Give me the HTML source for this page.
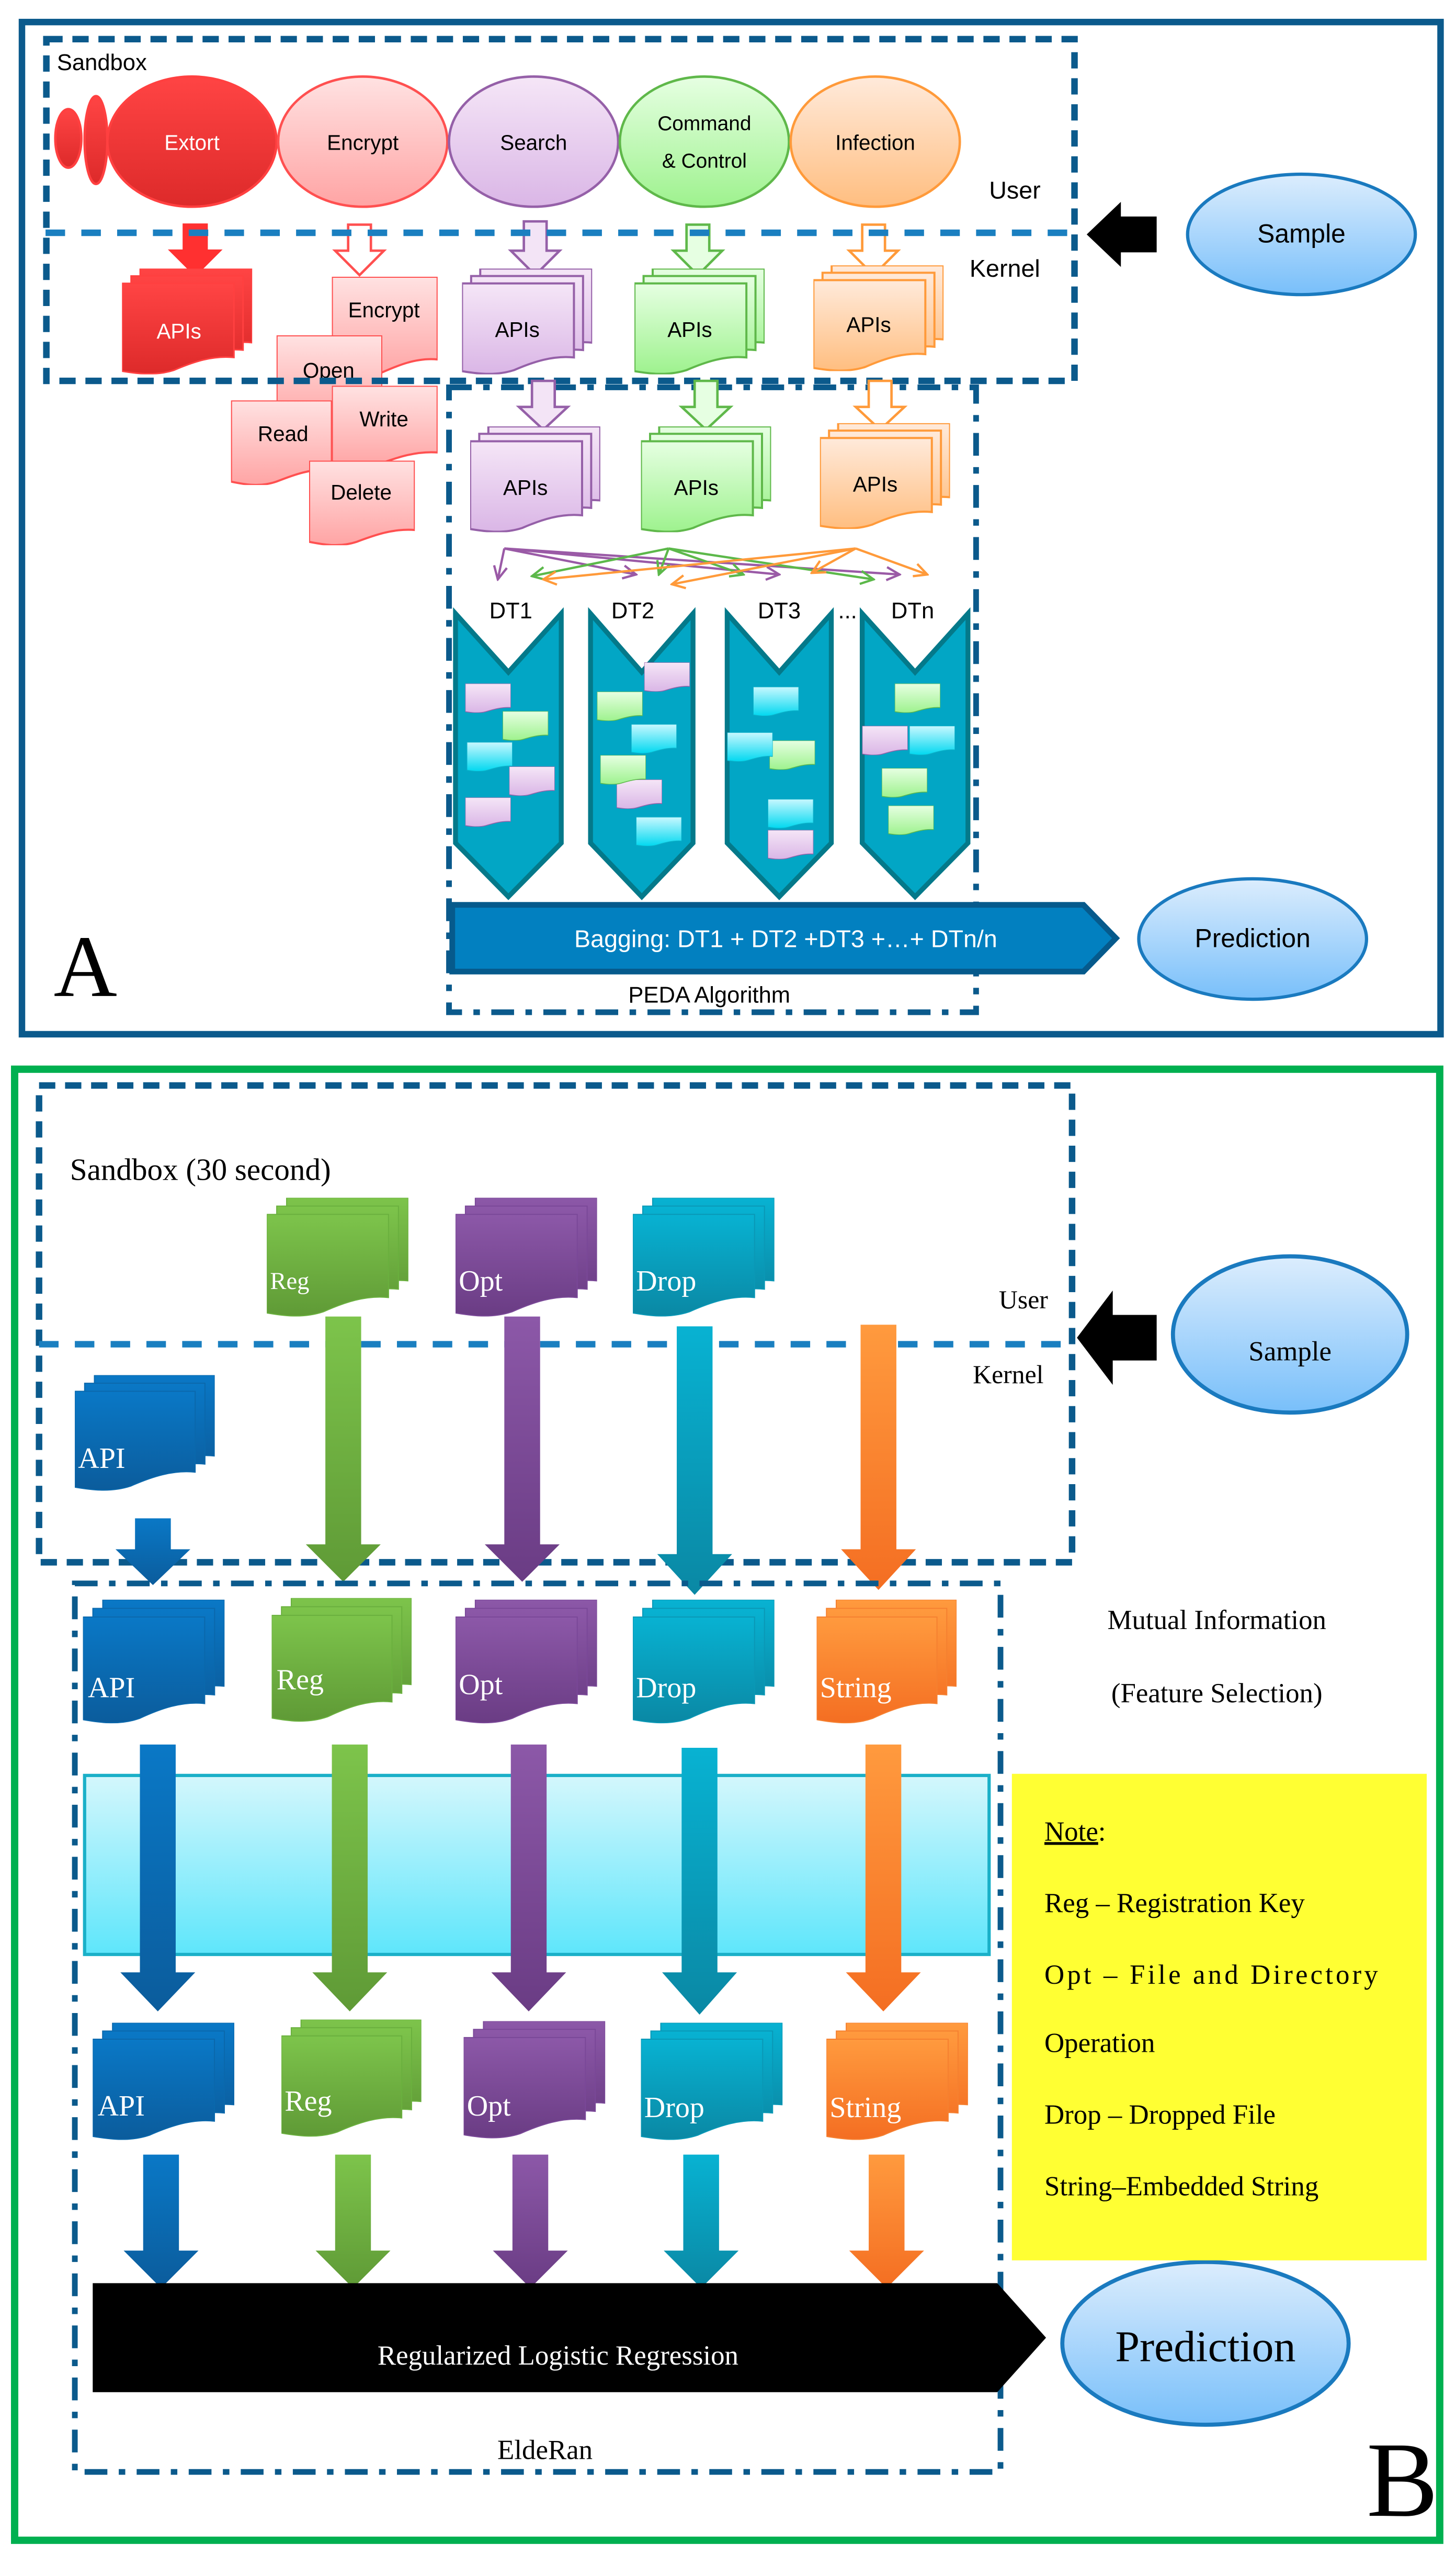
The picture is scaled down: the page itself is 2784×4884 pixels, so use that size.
<!DOCTYPE html>
<html><head><meta charset="utf-8"><style>html,body{margin:0;padding:0;background:#fff}svg{display:block}</style></head>
<body>
<svg xmlns="http://www.w3.org/2000/svg" xmlns:xlink="http://www.w3.org/1999/xlink" width="2784" height="4884" viewBox="0 0 895 1570">
<defs>
<linearGradient id="gRed" x1="0" y1="0" x2="0" y2="1"><stop offset="0" stop-color="#ff4444"/><stop offset="1" stop-color="#dd2a2a"/></linearGradient>
<linearGradient id="gPink" x1="0" y1="0" x2="0" y2="1"><stop offset="0" stop-color="#ffe2e2"/><stop offset="1" stop-color="#ffa4a4"/></linearGradient>
<linearGradient id="gLav" x1="0" y1="0" x2="0" y2="1"><stop offset="0" stop-color="#f5e6f7"/><stop offset="1" stop-color="#dab6e6"/></linearGradient>
<linearGradient id="gLg" x1="0" y1="0" x2="0" y2="1"><stop offset="0" stop-color="#e6ffe2"/><stop offset="1" stop-color="#9ef28e"/></linearGradient>
<linearGradient id="gPeach" x1="0" y1="0" x2="0" y2="1"><stop offset="0" stop-color="#ffeadb"/><stop offset="1" stop-color="#ffbe80"/></linearGradient>
<linearGradient id="gCy" x1="0" y1="0" x2="0" y2="1"><stop offset="0" stop-color="#c8f8ff"/><stop offset="1" stop-color="#00d8f0"/></linearGradient>
<linearGradient id="gSky" x1="0" y1="0" x2="0" y2="1"><stop offset="0" stop-color="#dcedfd"/><stop offset="1" stop-color="#78bffa"/></linearGradient>
<linearGradient id="gBand" x1="0" y1="0" x2="0" y2="1"><stop offset="0" stop-color="#d4f7fc"/><stop offset="1" stop-color="#5ee6fb"/></linearGradient>
<linearGradient id="gB" x1="0" y1="0" x2="0" y2="1"><stop offset="0" stop-color="#0a78c6"/><stop offset="1" stop-color="#0b5c9c"/></linearGradient>
<linearGradient id="gG" x1="0" y1="0" x2="0" y2="1"><stop offset="0" stop-color="#7dc44b"/><stop offset="1" stop-color="#5f9a36"/></linearGradient>
<linearGradient id="gP" x1="0" y1="0" x2="0" y2="1"><stop offset="0" stop-color="#8c58a8"/><stop offset="1" stop-color="#6a3c84"/></linearGradient>
<linearGradient id="gC" x1="0" y1="0" x2="0" y2="1"><stop offset="0" stop-color="#08b2d2"/><stop offset="1" stop-color="#0a88a4"/></linearGradient>
<linearGradient id="gO" x1="0" y1="0" x2="0" y2="1"><stop offset="0" stop-color="#ff9a3e"/><stop offset="1" stop-color="#f46e22"/></linearGradient>
<symbol id="doc" viewBox="0 0 100 100" preserveAspectRatio="none">
<path vector-effect="non-scaling-stroke" d="M0,0 H100 V82 C80,80 62,88 45,96 C28,103 12,99 0,96 Z"/>
</symbol>
<symbol id="st" viewBox="0 0 100 100" preserveAspectRatio="none">
<path vector-effect="non-scaling-stroke" d="M14,0 H100 V70 C84,68 69,74 54,82 C39,88 24,85 14,83 Z"/>
<path vector-effect="non-scaling-stroke" d="M7,7 H93 V77 C77,75 62,81 47,89 C32,95 17,92 7,90 Z"/>
<path vector-effect="non-scaling-stroke" d="M0,14 H86 V84 C70,82 55,88 40,96 C25,102 10,99 0,97 Z"/>
</symbol>
<marker id="mP" markerWidth="10" markerHeight="10" refX="9" refY="5" orient="auto" markerUnits="userSpaceOnUse"><path d="M1,1 L9,5 L1,9" fill="none" stroke="#9a5aa6" stroke-width="1.4"/></marker>
<marker id="mG" markerWidth="10" markerHeight="10" refX="9" refY="5" orient="auto" markerUnits="userSpaceOnUse"><path d="M1,1 L9,5 L1,9" fill="none" stroke="#5cb84a" stroke-width="1.4"/></marker>
<marker id="mO" markerWidth="10" markerHeight="10" refX="9" refY="5" orient="auto" markerUnits="userSpaceOnUse"><path d="M1,1 L9,5 L1,9" fill="none" stroke="#ff9a3a" stroke-width="1.4"/></marker>
</defs>

<!-- ================= PANEL A ================= -->
<rect x="13.5" y="13.5" width="872" height="622" fill="#fff" stroke="#0b5a8c" stroke-width="4"/>

<g stroke-width="1.5">
<ellipse cx="42" cy="85" rx="8" ry="18" fill="url(#gRed)" stroke="#ff4040"/>
<ellipse cx="59" cy="86" rx="7" ry="27" fill="url(#gRed)" stroke="#ff4040"/>
<ellipse cx="118" cy="87" rx="52" ry="40" fill="url(#gRed)" stroke="#ff4040"/>
<ellipse cx="223" cy="87" rx="52" ry="40" fill="url(#gPink)" stroke="#ff5050"/>
<ellipse cx="328" cy="87" rx="52" ry="40" fill="url(#gLav)" stroke="#9560a8"/>
<ellipse cx="433" cy="87" rx="52" ry="40" fill="url(#gLg)" stroke="#5fb84a"/>
<ellipse cx="538" cy="87" rx="52" ry="40" fill="url(#gPeach)" stroke="#ff9a3a"/>
</g>
<g font-family="Liberation Sans, sans-serif" font-size="13" text-anchor="middle">
<text x="118" y="92" fill="#fff">Extort</text>
<text x="223" y="92">Encrypt</text>
<text x="328" y="92">Search</text>
<text x="433" y="80" font-size="12.5">Command</text>
<text x="433" y="103" font-size="12.5">&amp; Control</text>
<text x="538" y="92">Infection</text>
</g>

<g stroke-width="1.5">
<path d="M113,138 H127 V154 H135 L120,169 L105,154 H113 Z" fill="#ff3030" stroke="#ff3030"/>
<path d="M214,138 H228 V154 H236 L221,169 L206,154 H214 Z" fill="#fff" stroke="#ff5050"/>
<path d="M322,136 H336 V154 H344 L329,169 L314,154 H322 Z" fill="#f3e4f6" stroke="#9560a8"/>
<path d="M422,138 H436 V154 H444 L429,169 L414,154 H422 Z" fill="#e6ffe2" stroke="#5fb84a"/>
<path d="M530,138 H544 V154 H552 L537,169 L522,154 H530 Z" fill="#fff" stroke="#ff9a3a"/>
</g>

<use href="#st" x="75" y="165" width="80" height="65" fill="url(#gRed)" stroke="#ff4040" stroke-width="3"/>
<text x="110" y="208" font-family="Liberation Sans, sans-serif" font-size="13" fill="#fff" text-anchor="middle">APIs</text>
<use href="#st" x="284" y="165" width="80" height="65" fill="url(#gLav)" stroke="#9560a8" stroke-width="4"/>
<text x="318" y="207" font-family="Liberation Sans, sans-serif" font-size="13" text-anchor="middle">APIs</text>
<use href="#st" x="390" y="165" width="80" height="65" fill="url(#gLg)" stroke="#5fb84a" stroke-width="4"/>
<text x="424" y="207" font-family="Liberation Sans, sans-serif" font-size="13" text-anchor="middle">APIs</text>
<use href="#st" x="500" y="163" width="80" height="65" fill="url(#gPeach)" stroke="#ff9a3a" stroke-width="4"/>
<text x="534" y="204" font-family="Liberation Sans, sans-serif" font-size="13" text-anchor="middle">APIs</text>

<g stroke="#ff5050" stroke-width="4" fill="url(#gPink)">
<use href="#doc" x="204" y="170" width="65" height="62"/>
<use href="#doc" x="170" y="206" width="65" height="55"/>
<use href="#doc" x="142" y="246" width="62" height="52"/>
<use href="#doc" x="204" y="237" width="65" height="50"/>
<use href="#doc" x="190" y="283" width="65" height="52"/>
</g>
<g font-family="Liberation Sans, sans-serif" font-size="13" text-anchor="middle">
<text x="236" y="195">Encrypt</text>
<text x="202" y="232">Open</text>
<text x="174" y="271">Read</text>
<text x="236" y="262">Write</text>
<text x="222" y="307">Delete</text>
</g>

<rect x="28.5" y="24" width="632" height="210" fill="none" stroke="#0b5a8c" stroke-width="4" stroke-dasharray="10 6"/>
<line x1="28" y1="143" x2="662" y2="143" stroke="#1a7fc0" stroke-width="4" stroke-dasharray="12 10"/>
<text x="35" y="43" font-family="Liberation Sans, sans-serif" font-size="14">Sandbox</text>
<text x="608" y="122" font-family="Liberation Sans, sans-serif" font-size="15">User</text>
<text x="596" y="170" font-family="Liberation Sans, sans-serif" font-size="15">Kernel</text>
<path d="M668,144 L689,124 V133 H711 V155 H689 V164 Z" fill="#000"/>
<ellipse cx="800" cy="144" rx="70" ry="37" fill="url(#gSky)" stroke="#1a7abf" stroke-width="2"/>
<text x="800" y="149" font-family="Liberation Sans, sans-serif" font-size="16" text-anchor="middle">Sample</text>

<rect x="276" y="238" width="324" height="384" fill="none" stroke="#0b5a8c" stroke-width="3.5" stroke-dasharray="14 7 4 7"/>
<g stroke-width="1.5">
<path d="M327,234 H341 V250 H349 L334,264 L319,250 H327 Z" fill="#f3e4f6" stroke="#9560a8"/>
<path d="M427,234 H441 V250 H449 L434,264 L419,250 H427 Z" fill="#e6ffe2" stroke="#5fb84a"/>
<path d="M534,234 H548 V250 H556 L541,264 L526,250 H534 Z" fill="#fff" stroke="#ff9a3a"/>
</g>
<use href="#st" x="289" y="262" width="80" height="65" fill="url(#gLav)" stroke="#9560a8" stroke-width="4"/>
<text x="323" y="304" font-family="Liberation Sans, sans-serif" font-size="13" text-anchor="middle">APIs</text>
<use href="#st" x="394" y="262" width="80" height="65" fill="url(#gLg)" stroke="#5fb84a" stroke-width="4"/>
<text x="428" y="304" font-family="Liberation Sans, sans-serif" font-size="13" text-anchor="middle">APIs</text>
<use href="#st" x="504" y="260" width="80" height="65" fill="url(#gPeach)" stroke="#ff9a3a" stroke-width="4"/>
<text x="538" y="302" font-family="Liberation Sans, sans-serif" font-size="13" text-anchor="middle">APIs</text>

<g fill="none" stroke-width="1.4">
<g stroke="#9a5aa6" marker-end="url(#mP)">
<line x1="310" y1="337" x2="306" y2="356"/><line x1="310" y1="337" x2="391" y2="353"/><line x1="310" y1="337" x2="479" y2="353"/><line x1="310" y1="337" x2="553" y2="353"/>
</g>
<g stroke="#5cb84a" marker-end="url(#mG)">
<line x1="411" y1="337" x2="327" y2="354"/><line x1="411" y1="337" x2="405" y2="353"/><line x1="411" y1="337" x2="457" y2="353"/><line x1="411" y1="337" x2="537" y2="356"/>
</g>
<g stroke="#ff9a3a" marker-end="url(#mO)">
<line x1="526" y1="337" x2="334" y2="356"/><line x1="526" y1="337" x2="413" y2="359"/><line x1="526" y1="337" x2="499" y2="352"/><line x1="526" y1="337" x2="570" y2="353"/>
</g>
</g>
<g font-family="Liberation Sans, sans-serif" font-size="14" text-anchor="middle">
<text x="314" y="380">DT1</text><text x="389" y="380">DT2</text><text x="479" y="380">DT3</text><text x="521" y="380">...</text><text x="561" y="380">DTn</text>
</g>

<g fill="#02a6c5" stroke="#04798a" stroke-width="3" stroke-linejoin="miter">
<path d="M280,377 L312.5,413 L345,377 V518 L312.5,551 L280,518 Z"/>
<path d="M363,377 L394.5,413 L426,377 V518 L394.5,551 L363,518 Z"/>
<path d="M447,377 L479,413 L511,377 V518 L479,551 L447,518 Z"/>
<path d="M530,377 L562.5,413 L595,377 V518 L562.5,551 L530,518 Z"/>
</g>
<g stroke-width="1.5">
<g fill="url(#gLav)" stroke="#9560a8">
<use href="#doc" x="286" y="420" width="28" height="18"/><use href="#doc" x="313" y="471" width="28" height="18"/><use href="#doc" x="286" y="490" width="28" height="18"/>
<use href="#doc" x="396" y="407" width="28" height="18"/><use href="#doc" x="379" y="479" width="28" height="18"/>
<use href="#doc" x="472" y="510" width="28" height="18"/><use href="#doc" x="530" y="446" width="28" height="18"/>
</g>
<g fill="url(#gLg)" stroke="#5cb84a">
<use href="#doc" x="309" y="437" width="28" height="18"/><use href="#doc" x="367" y="425" width="28" height="18"/><use href="#doc" x="369" y="464" width="28" height="18"/>
<use href="#doc" x="473" y="455" width="28" height="18"/><use href="#doc" x="550" y="420" width="28" height="18"/><use href="#doc" x="542" y="472" width="28" height="18"/><use href="#doc" x="546" y="495" width="28" height="18"/>
</g>
<g fill="url(#gCy)" stroke="#0ab0c8">
<use href="#doc" x="287" y="456" width="28" height="18"/><use href="#doc" x="388" y="445" width="28" height="18"/><use href="#doc" x="391" y="502" width="28" height="18"/>
<use href="#doc" x="463" y="422" width="28" height="18"/><use href="#doc" x="447" y="450" width="28" height="18"/><use href="#doc" x="472" y="491" width="28" height="18"/><use href="#doc" x="559" y="446" width="28" height="18"/>
</g>
</g>

<path d="M278,556 H666 L686,576.5 L666,597 H278 Z" fill="#0280c0" stroke="#065a8c" stroke-width="3.5"/>
<text x="483" y="582" font-family="Liberation Sans, sans-serif" font-size="15" fill="#fff" text-anchor="middle">Bagging: DT1 + DT2 +DT3 +…+ DTn/n</text>
<text x="436" y="616" font-family="Liberation Sans, sans-serif" font-size="14" text-anchor="middle">PEDA Algorithm</text>
<ellipse cx="770" cy="577" rx="70" ry="37" fill="url(#gSky)" stroke="#1a7abf" stroke-width="2"/>
<text x="770" y="582" font-family="Liberation Sans, sans-serif" font-size="16" text-anchor="middle">Prediction</text>
<text x="33" y="612" font-family="Liberation Serif, serif" font-size="54">A</text>

<!-- ================= PANEL B ================= -->
<rect x="9" y="657" width="876" height="904" fill="#fff" stroke="#00b050" stroke-width="4.5"/>

<rect x="24" y="667" width="635" height="293" fill="none" stroke="#0b5a8c" stroke-width="4" stroke-dasharray="10 6"/>
<line x1="24" y1="826" x2="662" y2="826" stroke="#1a7fc0" stroke-width="4" stroke-dasharray="12 10"/>
<text x="43" y="725" font-family="Liberation Serif, serif" font-size="19">Sandbox (30 second)</text>
<text x="614" y="804" font-family="Liberation Serif, serif" font-size="16">User</text>
<text x="598" y="850" font-family="Liberation Serif, serif" font-size="16">Kernel</text>
<path d="M662,822 L684,793 V808 H711 V836 H684 V851 Z" fill="#000"/>
<ellipse cx="793" cy="820" rx="72" ry="48" fill="url(#gSky)" stroke="#1a7abf" stroke-width="2.5"/>
<text x="793" y="836" font-family="Liberation Serif, serif" font-size="17" text-anchor="middle">Sample</text>

<use href="#st" x="164" y="736" width="87" height="73" fill="url(#gG)" stroke="#6ab03e" stroke-width="2"/>
<use href="#st" x="280" y="736" width="87" height="73" fill="url(#gP)" stroke="#7a4898" stroke-width="2"/>
<use href="#st" x="389" y="736" width="87" height="73" fill="url(#gC)" stroke="#0a98b6" stroke-width="2"/>
<use href="#st" x="46" y="845" width="86" height="71" fill="url(#gB)" stroke="#0b68ac" stroke-width="2"/>
<g font-family="Liberation Serif, serif" fill="#fff">
<text x="166" y="792" font-size="15">Reg</text>
<text x="282" y="793" font-size="18">Opt</text>
<text x="391" y="793" font-size="18">Drop</text>
<text x="48" y="902" font-size="18">API</text>
</g>

<path d="M200,809 H222 V949 H234 L211,972 L188,949 H200 Z" fill="url(#gG)"/>
<path d="M310,809 H332 V949 H344 L321,972 L298,949 H310 Z" fill="url(#gP)"/>
<path d="M416,815 H438 V955 H450 L427,980 L404,955 H416 Z" fill="url(#gC)"/>
<path d="M529,814 H551 V952 H563 L540,977 L517,952 H529 Z" fill="url(#gO)"/>
<path d="M83,933 H105 V952 H117 L94,974 L71,952 H83 Z" fill="url(#gB)"/>

<rect x="46" y="973" width="569" height="546" fill="none" stroke="#0b5a8c" stroke-width="3.5" stroke-dasharray="14 7 4 7"/>
<use href="#st" x="51" y="983" width="87" height="76" fill="url(#gB)" stroke="#0b68ac" stroke-width="2"/>
<use href="#st" x="167" y="982" width="86" height="76" fill="url(#gG)" stroke="#6ab03e" stroke-width="2"/>
<use href="#st" x="280" y="983" width="87" height="76" fill="url(#gP)" stroke="#7a4898" stroke-width="2"/>
<use href="#st" x="389" y="983" width="87" height="76" fill="url(#gC)" stroke="#0a98b6" stroke-width="2"/>
<use href="#st" x="502" y="983" width="86" height="76" fill="url(#gO)" stroke="#f58030" stroke-width="2"/>
<g font-family="Liberation Serif, serif" font-size="18" fill="#fff">
<text x="54" y="1043">API</text><text x="170" y="1038">Reg</text><text x="282" y="1041">Opt</text><text x="391" y="1043">Drop</text><text x="504" y="1043">String</text>
</g>
<text x="748" y="1001" font-family="Liberation Serif, serif" font-size="17" text-anchor="middle">Mutual Information</text>
<text x="748" y="1046" font-family="Liberation Serif, serif" font-size="17" text-anchor="middle">(Feature Selection)</text>

<rect x="52" y="1091" width="556" height="110" fill="url(#gBand)" stroke="#1ab0c8" stroke-width="2"/>
<path d="M86,1072 H108 V1212 H120 L97,1236 L74,1212 H86 Z" fill="url(#gB)"/>
<path d="M204,1072 H226 V1212 H238 L215,1236 L192,1212 H204 Z" fill="url(#gG)"/>
<path d="M314,1072 H336 V1212 H348 L325,1236 L302,1212 H314 Z" fill="url(#gP)"/>
<path d="M419,1074 H441 V1212 H453 L430,1238 L407,1212 H419 Z" fill="url(#gC)"/>
<path d="M532,1072 H554 V1212 H566 L543,1236 L520,1212 H532 Z" fill="url(#gO)"/>

<use href="#st" x="57" y="1243" width="87" height="72" fill="url(#gB)" stroke="#0b68ac" stroke-width="2"/>
<use href="#st" x="173" y="1241" width="86" height="72" fill="url(#gG)" stroke="#6ab03e" stroke-width="2"/>
<use href="#st" x="285" y="1242" width="87" height="72" fill="url(#gP)" stroke="#7a4898" stroke-width="2"/>
<use href="#st" x="394" y="1243" width="87" height="72" fill="url(#gC)" stroke="#0a98b6" stroke-width="2"/>
<use href="#st" x="508" y="1243" width="87" height="72" fill="url(#gO)" stroke="#f58030" stroke-width="2"/>
<g font-family="Liberation Serif, serif" font-size="18" fill="#fff">
<text x="60" y="1300">API</text><text x="175" y="1297">Reg</text><text x="287" y="1300">Opt</text><text x="396" y="1301">Drop</text><text x="510" y="1301">String</text>
</g>

<path d="M88,1324 H110 V1383 H122 L99,1406 L76,1383 H88 Z" fill="url(#gB)"/>
<path d="M206,1324 H228 V1383 H240 L217,1406 L194,1383 H206 Z" fill="url(#gG)"/>
<path d="M315,1324 H337 V1383 H349 L326,1406 L303,1383 H315 Z" fill="url(#gP)"/>
<path d="M420,1324 H442 V1383 H454 L431,1406 L408,1383 H420 Z" fill="url(#gC)"/>
<path d="M534,1324 H556 V1383 H568 L545,1406 L522,1383 H534 Z" fill="url(#gO)"/>

<path d="M57,1403 H613 L643,1436.5 L613,1470 H57 Z" fill="#000"/>
<text x="343" y="1453" font-family="Liberation Serif, serif" font-size="17" fill="#fff" text-anchor="middle">Regularized Logistic Regression</text>
<text x="335" y="1511" font-family="Liberation Serif, serif" font-size="17" text-anchor="middle">EldeRan</text>
<ellipse cx="741" cy="1440" rx="88" ry="50" fill="url(#gSky)" stroke="#1a7abf" stroke-width="2.5"/>
<text x="741" y="1451" font-family="Liberation Serif, serif" font-size="27" text-anchor="middle">Prediction</text>

<rect x="622" y="1090" width="255" height="299" fill="#ffff33"/>
<g font-family="Liberation Serif, serif" font-size="17">
<text x="642" y="1131"><tspan text-decoration="underline">Note</tspan>:</text>
<text x="642" y="1175">Reg – Registration Key</text>
<text x="642" y="1219" textLength="205" lengthAdjust="spacing">Opt – File and Directory</text>
<text x="642" y="1261">Operation</text>
<text x="642" y="1305">Drop – Dropped File</text>
<text x="642" y="1349">String–Embedded String</text>
</g>
<text x="840" y="1546" font-family="Liberation Serif, serif" font-size="66">B</text>
</svg>
</body></html>
